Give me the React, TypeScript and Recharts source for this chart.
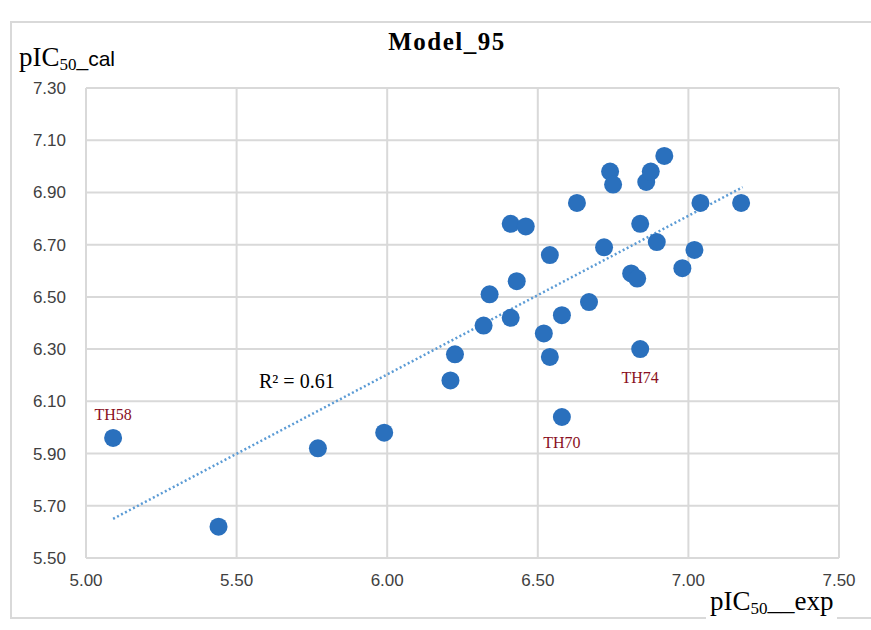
import {
  CartesianGrid,
  LabelList,
  ReferenceDot,
  Scatter,
  ScatterChart,
  XAxis,
  YAxis,
} from 'recharts';

// pIC50 experimental vs calculated, Model_95
const expValues = [
  5.09, 5.44, 5.77, 5.99, 6.21, 6.225, 6.32, 6.34, 6.41, 6.41, 6.46, 6.43,
  6.52, 6.54, 6.54, 6.58, 6.58, 6.63, 6.67, 6.72, 6.74, 6.75, 6.81, 6.83,
  6.84, 6.84, 6.86, 6.875, 6.895, 6.92, 6.98, 7.02, 7.04, 7.175,
];
const calValues = [
  5.96, 5.62, 5.92, 5.98, 6.18, 6.28, 6.39, 6.51, 6.42, 6.78, 6.77, 6.56,
  6.36, 6.27, 6.66, 6.43, 6.04, 6.86, 6.48, 6.69, 6.98, 6.93, 6.59, 6.57,
  6.78, 6.30, 6.94, 6.98, 6.71, 7.04, 6.61, 6.68, 6.86, 6.86,
];
const pointNames = [
  'TH58', '', '', '', '', '', '', '', '', '', '', '',
  '', '', '', '', 'TH70', '', '', '', '', '', '', '',
  '', 'TH74', '', '', '', '', '', '', '', '',
];
// label above (-) or below (+) the point
const labelSide = { TH58: -22, TH70: 27, TH74: 30 } as Record<string, number>;

const trendX = [5.09, 7.18];
const trendY = [5.65, 6.92];

const xTicks = [5.0, 5.5, 6.0, 6.5, 7.0, 7.5];
const yTicks = [5.5, 5.7, 5.9, 6.1, 6.3, 6.5, 6.7, 6.9, 7.1, 7.3];

const points = expValues.map((x, i) => ({ x, y: calValues[i], name: pointNames[i] }));
const trend = trendX.map((x, i) => ({ x, y: trendY[i] }));

const BLUE = '#2a70bd';
const SERIF = '"Liberation Serif", "Times New Roman", serif';
const TICK_FONT = '"Liberation Sans Narrow", "Arial Narrow", "Liberation Sans", sans-serif';

function PointLabel(props: any) {
  const { x, y, width, value } = props;
  if (!value) return null;
  const cx = x + width / 2;
  const cy = y + width / 2;
  return (
    <text
      x={cx}
      y={cy + labelSide[value]}
      textAnchor="middle"
      dominantBaseline="middle"
      fill="#8a0f22"
      fontFamily={SERIF}
      fontSize={16}
    >
      {value}
    </text>
  );
}

export default function App() {
  return (
    <div style={{ position: 'absolute', left: 0, top: 0, width: 871, height: 630, background: '#fff', overflow: 'hidden' }}>
      <div
        style={{
          position: 'absolute',
          left: 10,
          top: 21,
          width: 900,
          height: 594,
          border: '2px solid #d9d9d9',
        }}
      />
      <div
        style={{
          position: 'absolute',
          left: 0,
          width: 894,
          top: 28,
          textAlign: 'center',
          fontFamily: SERIF,
          fontWeight: 'bold',
          fontSize: 25,
          letterSpacing: 1.5,
          color: '#000',
        }}
      >
        Model_95
      </div>
      <div style={{ position: 'absolute', left: 19, top: 42, fontFamily: SERIF, fontSize: 27, color: '#000', whiteSpace: 'nowrap' }}>
        pIC<sub style={{ fontSize: 17, verticalAlign: '-4px' }}>50</sub>
        <span style={{ fontFamily: '"Liberation Sans", sans-serif', fontSize: 21 }}>_cal</span>
      </div>
      <ScatterChart
        width={871}
        height={630}
        margin={{ top: 88, right: 32, bottom: 40, left: 26 }}
        style={{ position: 'absolute', left: 0, top: 0 }}
      >
        <CartesianGrid stroke="#d9d9d9" strokeWidth={2} />
        <XAxis
          type="number"
          dataKey="x"
          domain={[5.0, 7.5]}
          ticks={xTicks}
          tickFormatter={(v: number) => v.toFixed(2)}
          axisLine={false}
          tickLine={false}
          tickMargin={10}
          height={32}
          tick={{ fill: '#404040', fontSize: 17, fontFamily: TICK_FONT }}
        />
        <YAxis
          type="number"
          dataKey="y"
          domain={[5.5, 7.3]}
          ticks={yTicks}
          tickFormatter={(v: number) => v.toFixed(2)}
          axisLine={false}
          tickLine={false}
          tickMargin={14}
          width={60}
          tick={{ fill: '#404040', fontSize: 17, fontFamily: TICK_FONT }}
        />
        <Scatter
          data={trend}
          line={{ stroke: '#5b9bd5', strokeWidth: 2.5, strokeDasharray: '2 2.5' }}
          shape={() => null}
          isAnimationActive={false}
        />
        <Scatter
          data={points}
          isAnimationActive={false}
          shape={(p: any) => <circle cx={p.cx} cy={p.cy} r={9} fill={BLUE} />}
        >
          <LabelList dataKey="name" content={<PointLabel />} />
        </Scatter>
        <ReferenceDot
          x={5.7}
          y={6.18}
          r={0}
          fill="none"
          stroke="none"
          label={{ value: 'R² = 0.61', fill: '#000', fontSize: 20, fontFamily: SERIF, position: 'center' }}
        />
      </ScatterChart>
      <div
        style={{
          position: 'absolute',
          left: 706,
          top: 586,
          padding: '0 4px',
          background: '#fff',
          fontFamily: SERIF,
          fontSize: 27,
          color: '#000',
          whiteSpace: 'nowrap',
        }}
      >
        pIC<sub style={{ fontSize: 17, verticalAlign: '-4px' }}>50</sub>__exp
      </div>
    </div>
  );
}
